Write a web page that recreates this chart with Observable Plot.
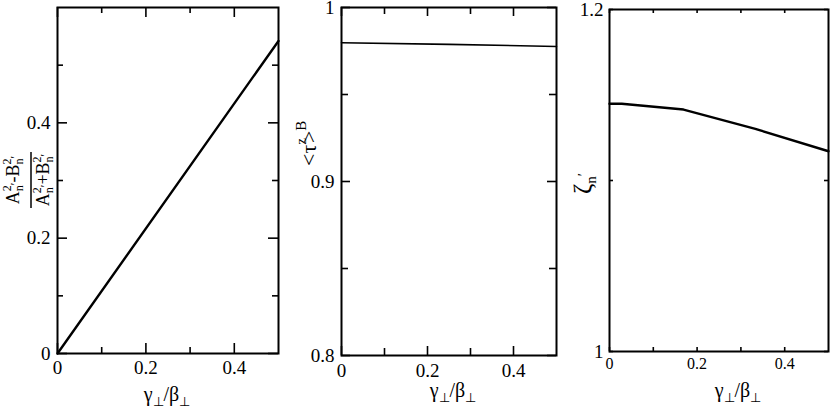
<!DOCTYPE html>
<html>
<head>
<meta charset="utf-8">
<script src="https://cdn.jsdelivr.net/npm/d3@7"></script>
<script src="https://cdn.jsdelivr.net/npm/@observablehq/plot@0.6"></script>
<style>
  html, body { margin: 0; padding: 0; background: #fff; }
  #row { display: flex; flex-direction: row; width: 830px; height: 412px; }
  #row svg { display: block; font-family: "Liberation Serif", "Times New Roman", serif !important; }
  #row svg text { font-family: "Liberation Serif", "Times New Roman", serif !important; }
</style>
</head>
<body>
<div id="row"></div>
<script>
// ---- data ----
// Panel 1: (A^2 - B^2)/(A^2 + B^2) vs gamma/beta
const p1X = [0, 0.5];
const p1Y = [0, 0.542];
// Panel 2: <tau^z>^B vs gamma/beta
const p2X = [0, 0.25, 0.5];
const p2Y = [0.9797, 0.9788, 0.9776];
// Panel 3: zeta_n' vs gamma/beta
const p3X = [0, 0.028, 0.169, 0.333, 0.5];
const p3Y = [1.1449, 1.1449, 1.1415, 1.1302, 1.1171];

// tick values
const p1XMajor = [0, 0.2, 0.4], p1XMinor = [0.1, 0.3];
const p1YMajor = [0, 0.2, 0.4], p1YMinor = [0.1, 0.3, 0.5];
const p2XMajor = [0, 0.2, 0.4], p2XMinor = [0.1, 0.3];
const p2YMajor = [0.8, 0.9, 1], p2YMinor = [0.85, 0.95];
const p3XMajor = [0, 0.2, 0.4], p3XMinor = [0.1, 0.3];
const p3YMajor = [1, 1.2], p3YMinor = [1.1];

function panel(o) {
  const iw = o.width - o.ml - o.mr;
  const ih = 412 - o.mt - o.mb;
  const data = o.xs.map((x, i) => ({x, y: o.ys[i]}));
  const tickMarks = (vals, len) => [
    Plot.tickX(vals, {x: d => d, insetTop: ih - len, strokeWidth: 1.6}),
    Plot.tickX(vals, {x: d => d, insetBottom: ih - len, strokeWidth: 1.6})
  ];
  const tickMarksY = (vals, len) => [
    Plot.tickY(vals, {y: d => d, insetRight: iw - len, strokeWidth: 1.6}),
    Plot.tickY(vals, {y: d => d, insetLeft: iw - len, strokeWidth: 1.6})
  ];
  return Plot.plot({
    width: o.width,
    height: 412,
    marginLeft: o.ml, marginRight: o.mr, marginTop: o.mt, marginBottom: o.mb,
    style: {fontSize: "19px", background: "white", color: "black", overflow: "visible"},
    x: {domain: o.xDomain, axis: null},
    y: {domain: o.yDomain, axis: null},
    marks: [
      ...tickMarks(o.xMajor, o.majorLen),
      ...tickMarks(o.xMinor, o.minorLen),
      ...tickMarksY(o.yMajor, o.majorLen),
      ...tickMarksY(o.yMinor, o.minorLen),
      Plot.axisX(o.xMajor, {anchor: "bottom", tickSize: 0, tickPadding: o.xPad, label: null,
        tickFormat: d => String(d), fontSize: o.xFont, fill: "black"}),
      Plot.axisY(o.yMajor, {anchor: "left", tickSize: 0, tickPadding: o.yPad, label: null,
        tickFormat: d => String(d), fontSize: o.yFont, fill: "black"}),
      Plot.line(data, {x: "x", y: "y", stroke: "black", strokeWidth: o.lineWidth}),
      Plot.frame({stroke: "black", strokeWidth: 2})
    ]
  });
}

function rich(svg, x, y, rotate, anchor, base, parts) {
  const t = d3.select(svg).append("text")
    .attr("transform", `translate(${x},${y}) rotate(${rotate})`)
    .attr("text-anchor", anchor)
    .attr("font-size", base)
    .attr("fill", "black");
  let cur = 0;
  for (const [s, size, shift = 0, dx = 0] of parts) {
    t.append("tspan").attr("font-size", size).attr("dy", shift - cur).attr("dx", dx).text(s);
    cur = shift;
  }
  return t;
}

const row = document.getElementById("row");

// Panel 1
const s1 = panel({width: 280, ml: 57, mr: 2, mt: 7, mb: 59,
  xDomain: [0, 0.5], yDomain: [0, 0.6], xs: p1X, ys: p1Y,
  xMajor: p1XMajor, xMinor: p1XMinor, yMajor: p1YMajor, yMinor: p1YMinor,
  majorLen: 10, minorLen: 6, xPad: 7, yPad: 7, xFont: 19, yFont: 19, lineWidth: 2.4});
row.appendChild(s1);
rich(s1, 19, 180, -90, "middle", 18, [
  ["A", 18], ["2", 12, -8], ["n", 12, 4, -6], ["′", 12, 0], ["-B", 18, 0], ["2", 12, -8], ["n", 12, 4, -6], ["′", 12, 0]
]);
d3.select(s1).append("line").attr("x1", 31).attr("x2", 31).attr("y1", 152).attr("y2", 208)
  .attr("stroke", "black").attr("stroke-width", 1.5);
rich(s1, 49, 180, -90, "middle", 18, [
  ["A", 18], ["2", 12, -8], ["n", 12, 4, -6], ["′", 12, 0], ["+B", 18, 0], ["2", 12, -8], ["n", 12, 4, -6], ["′", 12, 0]
]);
rich(s1, 167, 401, 0, "middle", 20, [["γ", 20], ["⊥", 13, 5], ["/β", 20, 0], ["⊥", 13, 5]]);

// Panel 2
const s2 = panel({width: 280, ml: 61, mr: 4, mt: 7, mb: 57,
  xDomain: [0, 0.5], yDomain: [0.8, 1], xs: p2X, ys: p2Y,
  xMajor: p2XMajor, xMinor: p2XMinor, yMajor: p2YMajor, yMinor: p2YMinor,
  majorLen: 9, minorLen: 7, xPad: 8, yPad: 7, xFont: 19, yFont: 19, lineWidth: 1.6});
row.appendChild(s2);
rich(s2, 36, 166, -90, "start", 22, [["<τ", 22], ["z", 15, -10], [">", 22, 0, -5], ["B", 15, -10]]);
rich(s2, 173, 397, 0, "middle", 20, [["γ", 20], ["⊥", 13, 5], ["/β", 20, 0], ["⊥", 13, 5]]);

// Panel 3
const s3 = panel({width: 270, ml: 49, mr: 2, mt: 9, mb: 61,
  xDomain: [0, 0.5], yDomain: [1, 1.2], xs: p3X, ys: p3Y,
  xMajor: p3XMajor, xMinor: p3XMinor, yMajor: p3YMajor, yMinor: p3YMinor,
  majorLen: 4, minorLen: 4, xPad: 6, yPad: 6, xFont: 16, yFont: 19, lineWidth: 2.4});
row.appendChild(s3);
rich(s3, 31, 194, -90, "start", 25, [["ζ", 25], ["n", 15, 5], ["′", 15, -3]]);
rich(s3, 178, 397, 0, "middle", 20, [["γ", 20], ["⊥", 13, 5], ["/β", 20, 0], ["⊥", 13, 5]]);
</script>
</body>
</html>
